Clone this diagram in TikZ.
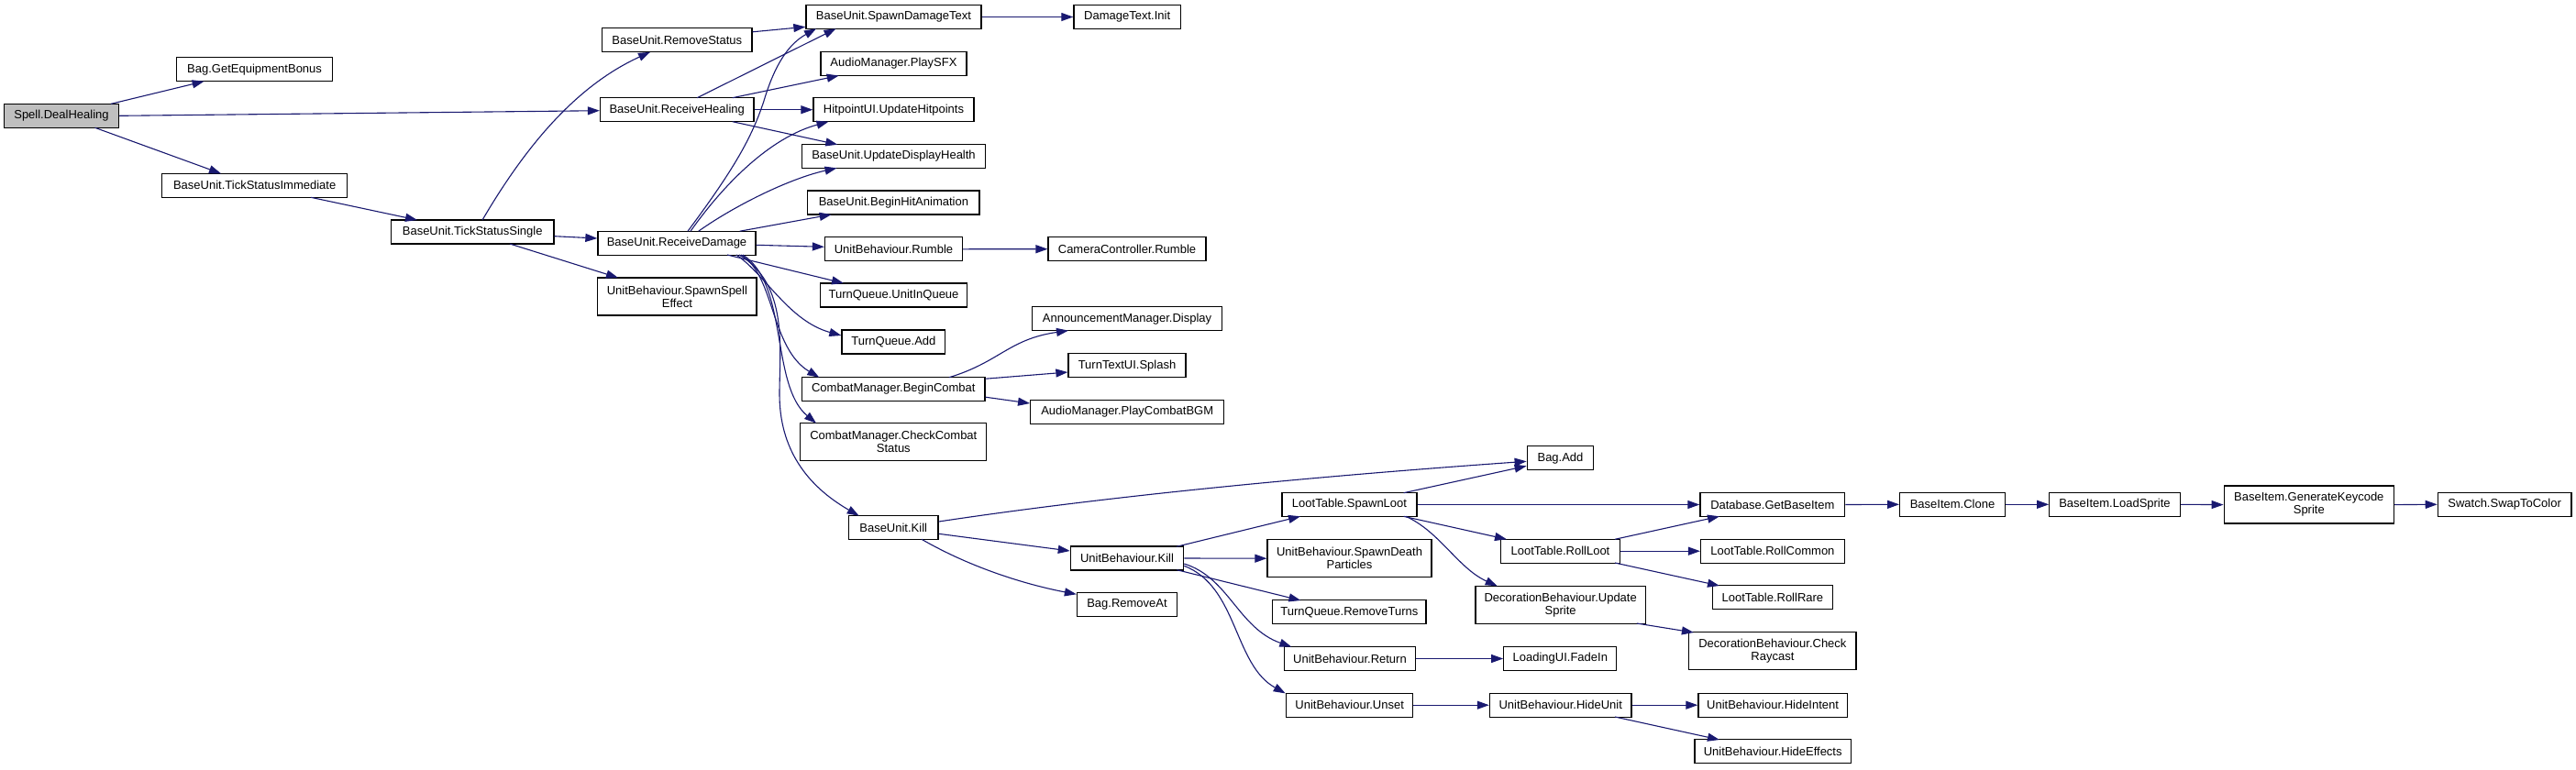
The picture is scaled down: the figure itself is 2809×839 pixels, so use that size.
\documentclass[tikz,border=0pt]{standalone}
\usepackage{fontspec}
\setmainfont{Liberation Sans}
\usetikzlibrary{arrows.meta,calc}
\definecolor{edgeblue}{HTML}{191970}
\definecolor{graybox}{HTML}{BFBFBF}
\begin{document}
\begin{tikzpicture}[x=1pt,y=-1pt,
  fn/.style={draw=black, line width=1.3pt, fill=white, inner sep=0pt, align=center, font=\fontsize{13}{14}\selectfont, minimum height=26pt},
  fn2/.style={fn, minimum height=41pt},
  call/.style={draw=edgeblue, line width=1.1pt, -{Triangle[length=13pt,width=9pt]}}]
\useasboundingbox[fill=white] (0,0) rectangle (2809,839);

\node[fn, fill=graybox, minimum width=125pt] (spell) at (67,126.3) {Spell.DealHealing};
\node[fn, minimum width=169.7pt] (bagbonus) at (277.6,75.7) {Bag.GetEquipmentBonus};
\node[fn, minimum width=201.8pt] (tickimm) at (277.7,202.3) {BaseUnit.TickStatusImmediate};
\node[fn, minimum width=177.7pt] (ticksingle) at (515.2,253) {BaseUnit.TickStatusSingle};
\node[fn, minimum width=163.3pt] (removestatus) at (738.3,43.8) {BaseUnit.RemoveStatus};
\node[fn, minimum width=167.4pt] (recvheal) at (738.2,119.7) {BaseUnit.ReceiveHealing};
\node[fn, minimum width=172pt] (recvdmg) at (738,265.2) {BaseUnit.ReceiveDamage};
\node[fn2, minimum width=173.2pt] (spawnspell) at (738.4,323.5) {UnitBehaviour.SpawnSpell\\Effect};
\node[fn, minimum width=191pt] (spawndmgtext) at (974.5,18.5) {BaseUnit.SpawnDamageText};
\node[fn, minimum width=116.5pt] (dmginit) at (1229.2,18.5) {DamageText.Init};
\node[fn, minimum width=159pt] (playsfx) at (974.5,69.5) {AudioManager.PlaySFX};
\node[fn, minimum width=175pt] (hitpoints) at (974.5,119.7) {HitpointUI.UpdateHitpoints};
\node[fn, minimum width=200pt] (updatedisp) at (974.5,170.5) {BaseUnit.UpdateDisplayHealth};
\node[fn, minimum width=187.2pt] (beginhit) at (974.4,221) {BaseUnit.BeginHitAnimation};
\node[fn, minimum width=150pt] (ubrumble) at (974.5,271.8) {UnitBehaviour.Rumble};
\node[fn, minimum width=171.8pt] (camrumble) at (1229,271.7) {CameraController.Rumble};
\node[fn, minimum width=159.8pt] (unitinqueue) at (974.5,322) {TurnQueue.UnitInQueue};
\node[fn, minimum width=112.8pt] (tqadd) at (974.4,373) {TurnQueue.Add};
\node[fn, minimum width=207.3pt] (announce) at (1229,347.8) {AnnouncementManager.Display};
\node[fn, minimum width=128pt] (splash) at (1229,398.7) {TurnTextUI.Splash};
\node[fn, minimum width=199.5pt] (begincombat) at (974.3,424.2) {CombatManager.BeginCombat};
\node[fn, minimum width=211pt] (playbgm) at (1229.2,449.3) {AudioManager.PlayCombatBGM};
\node[fn2, minimum width=203pt] (checkcombat) at (974.3,482.3) {CombatManager.CheckCombat\\Status};
\node[fn, minimum width=97.6pt] (bukill) at (974.2,575.5) {BaseUnit.Kill};
\node[fn, minimum width=123.2pt] (ubkill) at (1229,609) {UnitBehaviour.Kill};
\node[fn, minimum width=109pt] (removeat) at (1229,659.8) {Bag.RemoveAt};
\node[fn, minimum width=72.5pt] (bagadd) at (1701.5,499.8) {Bag.Add};
\node[fn, minimum width=147pt] (spawnloot) at (1471.5,550.5) {LootTable.SpawnLoot};
\node[fn, minimum width=157.7pt] (getbaseitem) at (1932.8,550.5) {Database.GetBaseItem};
\node[fn2, minimum width=179pt] (deathparticles) at (1471.5,609.2) {UnitBehaviour.SpawnDeath\\Particles};
\node[fn, minimum width=129.6pt] (rollloot) at (1701.5,601.2) {LootTable.RollLoot};
\node[fn, minimum width=156.6pt] (rollcommon) at (1932.9,601.2) {LootTable.RollCommon};
\node[fn, minimum width=131.2pt] (rollrare) at (1932.9,651.8) {LootTable.RollRare};
\node[fn2, minimum width=185.4pt] (updatesprite) at (1701.7,659.7) {DecorationBehaviour.Update\\Sprite};
\node[fn, minimum width=167.2pt] (removeturns) at (1471.4,667.8) {TurnQueue.RemoveTurns};
\node[fn2, minimum width=182.2pt] (checkraycast) at (1932.9,710.3) {DecorationBehaviour.Check\\Raycast};
\node[fn, minimum width=143pt] (ubreturn) at (1472,718.5) {UnitBehaviour.Return};
\node[fn, minimum width=123pt] (fadein) at (1701.3,718.5) {LoadingUI.FadeIn};
\node[fn, minimum width=138.2pt] (unset) at (1471.7,769.2) {UnitBehaviour.Unset};
\node[fn, minimum width=154.5pt] (hideunit) at (1701.7,769.2) {UnitBehaviour.HideUnit};
\node[fn, minimum width=162.3pt] (hideintent) at (1933.1,769.2) {UnitBehaviour.HideIntent};
\node[fn, minimum width=170.4pt] (hideeffects) at (1933.2,819.8) {UnitBehaviour.HideEffects};
\node[fn, minimum width=114.6pt] (clone) at (2129,550.3) {BaseItem.Clone};
\node[fn, minimum width=142.4pt] (loadsprite) at (2306,550.3) {BaseItem.LoadSprite};
\node[fn2, minimum width=185.2pt] (genkeycode) at (2517.8,550.6) {BaseItem.GenerateKeycode\\Sprite};
\node[fn, minimum width=145.5pt] (swatch) at (2731.1,550.3) {Swatch.SwapToColor};

\draw[call] ($(spell)+(54,-13)$) -- ($(bagbonus)+(-55,13)$);
\draw[call] (spell.east) -- ($(recvheal.west)+(0,1)$);
\draw[call] ($(spell)+(36.6,13)$) -- ($(tickimm)+(-36.7,-13)$);
\draw[call] ($(tickimm)+(61.3,13)$) -- ($(ticksingle)+(-60.2,-13)$);
\draw[call] ($(ticksingle)+(10.8,-13)$) .. controls (570,165) and (625,95) .. ($(removestatus)+(-29.3,13)$);
\draw[call] ($(ticksingle.east)+(0,4.7)$) -- ($(recvdmg.west)+(0,-5.2)$);
\draw[call] ($(ticksingle)+(40.8,13)$) -- ($(spawnspell)+(-64.4,-20.5)$);
\draw[call] ($(removestatus.east)+(0,-9)$) -- ($(spawndmgtext.west)+(0,10.8)$);
\draw[call] ($(recvheal)+(22,-13)$) -- ($(spawndmgtext)+(-63,12.8)$);
\draw[call] ($(recvheal)+(60.5,-13)$) -- ($(playsfx)+(-59.8,13)$);
\draw[call] (recvheal.east) -- (hitpoints.west);
\draw[call] ($(recvheal)+(60.5,13)$) -- ($(updatedisp)+(-61.2,-12.8)$);
\draw[call] ($(recvdmg)+(12,-13)$) .. controls (800,185) and (820,150) .. (833,110) .. controls (845,70) and (860,48) .. ($(spawndmgtext)+(-84.5,12.8)$);
\draw[call] ($(recvdmg)+(15,-13)$) .. controls (790,200) and (840,150) .. ($(hitpoints)+(-71,13)$);
\draw[call] ($(recvdmg)+(23.7,-13)$) .. controls (800,225) and (860,195) .. ($(updatedisp)+(-62,12.8)$);
\draw[call] ($(recvdmg)+(68.7,-13)$) -- ($(beginhit)+(-67.7,13)$);
\draw[call] ($(recvdmg.east)+(0,2.1)$) -- ($(ubrumble.west)+(0,-2.5)$);
\draw[call] ($(recvdmg)+(55,12.8)$) -- ($(unitinqueue)+(-54.5,-13)$);
\draw[call] ($(recvdmg)+(65,12.8)$) .. controls (835,300) and (860,350) .. ($(tqadd.west)+(0,-7)$);
\draw[call] ($(recvdmg)+(70,12.8)$) .. controls (845,300) and (840,380) .. ($(begincombat)+(-81,-12.5)$);
\draw[call] ($(recvdmg)+(72,12.8)$) .. controls (860,310) and (840,420) .. ($(checkcombat)+(-84.3,-20.6)$);
\draw[call] ($(recvdmg)+(68,12.8)$) .. controls (860,310) and (850,380) .. (850,430) .. controls (850,490) and (880,530) .. ($(bukill)+(-37.5,-12.8)$);
\draw[call] (ubrumble.east) -- (camrumble.west);
\draw[call] (spawndmgtext.east) -- (dmginit.west);
\draw[call] ($(begincombat)+(60.7,-12.5)$) .. controls (1090,395) and (1100,370) .. ($(announce)+(-64,12.8)$);
\draw[call] ($(begincombat.east)+(0,-11)$) -- ($(splash.west)+(0,7.3)$);
\draw[call] ($(begincombat.east)+(0,9)$) -- ($(playbgm.west)+(0,-9.3)$);
\draw[call] ($(bukill.east)+(0,-6.5)$) .. controls (1250,535) and (1500,515) .. ($(bagadd.west)+(0,3.5)$);
\draw[call] ($(bukill.east)+(0,6.8)$) -- ($(ubkill.west)+(0,-8)$);
\draw[call] ($(bukill)+(30.8,12.8)$) .. controls (1060,620) and (1120,638) .. ($(removeat.west)+(0,-11.5)$);
\draw[call] ($(ubkill)+(54,-12.7)$) -- ($(spawnloot)+(-53.5,12.8)$);
\draw[call] (ubkill.east) -- (deathparticles.west);
\draw[call] ($(ubkill)+(54.3,12.7)$) -- ($(removeturns)+(-53,-12.8)$);
\draw[call] ($(ubkill.east)+(0,6)$) .. controls (1340,630) and (1350,685) .. ($(ubreturn)+(-63.7,-12.8)$);
\draw[call] ($(ubkill.east)+(0,8.3)$) .. controls (1350,640) and (1345,725) .. ($(unset)+(-70,-12.8)$);
\draw[call] ($(spawnloot)+(59.1,-12.8)$) -- ($(bagadd.west)+(0,8.5)$);
\draw[call] (spawnloot.east) -- (getbaseitem.west);
\draw[call] ($(spawnloot)+(59.1,12.8)$) -- ($(rollloot)+(-58.5,-12.9)$);
\draw[call] ($(spawnloot)+(61.5,12.8)$) .. controls (1570,580) and (1590,620) .. ($(updatesprite)+(-69,-20.4)$);
\draw[call] ($(rollloot)+(59.5,-12.9)$) -- ($(getbaseitem)+(-57.8,12.8)$);
\draw[call] (rollloot.east) -- (rollcommon.west);
\draw[call] ($(rollloot)+(59.5,12.8)$) -- ($(rollrare)+(-57.9,-12.8)$);
\draw[call] ($(updatesprite)+(83,20.3)$) -- ($(checkraycast)+(-86,-20.3)$);
\draw[call] (ubreturn.east) -- (fadein.west);
\draw[call] (unset.east) -- (hideunit.west);
\draw[call] (hideunit.east) -- (hideintent.west);
\draw[call] ($(hideunit)+(59.3,12.8)$) -- ($(hideeffects)+(-58.2,-12.8)$);
\draw[call] (getbaseitem.east) -- (clone.west);
\draw[call] (clone.east) -- (loadsprite.west);
\draw[call] (loadsprite.east) -- (genkeycode.west);
\draw[call] (genkeycode.east) -- (swatch.west);
\end{tikzpicture}
\end{document}
